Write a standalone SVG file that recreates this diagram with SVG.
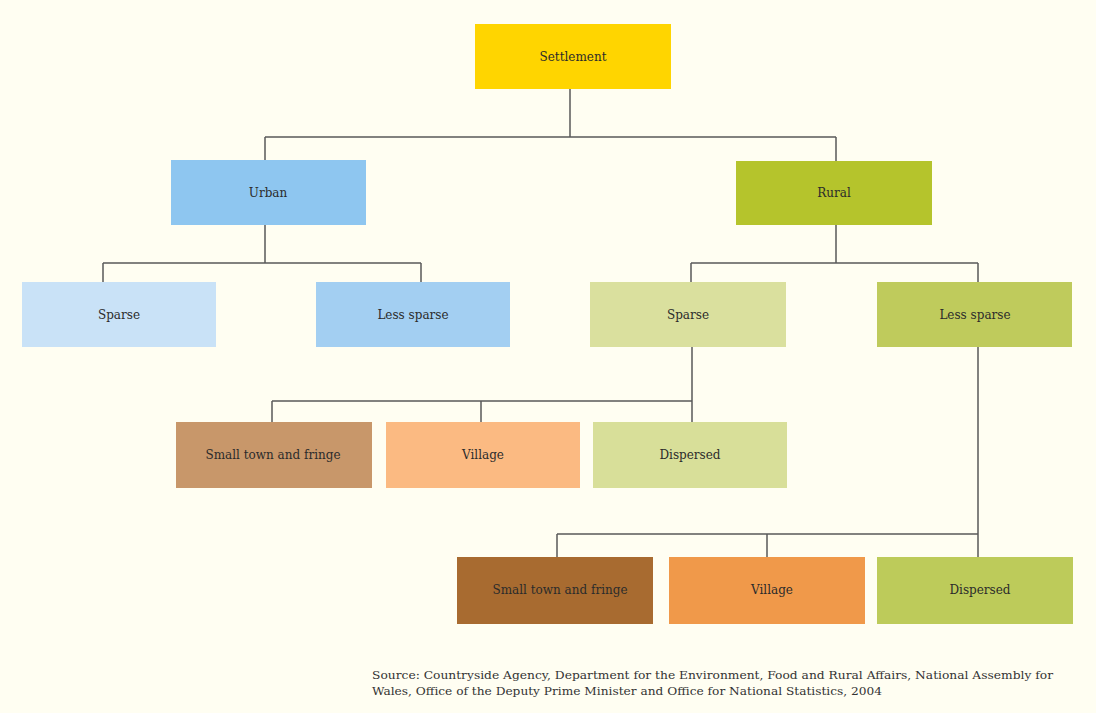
<svg xmlns="http://www.w3.org/2000/svg" width="1096" height="713" viewBox="0 0 1096 713">
<style>
.lbl{font-family:"DejaVu Serif","Liberation Serif",serif;font-size:12px;fill:#2b2b2b;text-anchor:middle;dominant-baseline:central}
.src{font-family:"DejaVu Serif","Liberation Serif",serif;font-size:11.5px;fill:#333}
.c{stroke:#5a5a5a;stroke-width:1.5;fill:none}
</style>
<rect width="1096" height="713" fill="#FFFEF2"/>
<g id="connectors">
<path class="c" d="M570 89V137M265 137H836M265 137V161M836 137V161"/>
<path class="c" d="M265 225V263M103 263H421M103 263V282M421 263V282"/>
<path class="c" d="M836 225V263M691 263H978M691 263V282M978 263V282"/>
<path class="c" d="M692 347V422M272 401H692M272 401V422M481 401V422"/>
<path class="c" d="M978 347V557M557 534H978M557 534V557M767 534V557"/>
</g>
<g id="settlement"><rect x="475" y="24" width="196" height="65" fill="#FFD500"/><text class="lbl" x="573" y="57">Settlement</text></g>
<g id="urban"><rect x="171" y="160" width="195" height="65" fill="#8EC6F0"/><text class="lbl" x="268" y="193">Urban</text></g>
<g id="rural"><rect x="736" y="161" width="196" height="64" fill="#B5C42C"/><text class="lbl" x="834" y="193">Rural</text></g>
<g id="urban-sparse"><rect x="22" y="282" width="194" height="65" fill="#C9E2F7"/><text class="lbl" x="119" y="315">Sparse</text></g>
<g id="urban-less-sparse"><rect x="316" y="282" width="194" height="65" fill="#A3CFF2"/><text class="lbl" x="413" y="315">Less sparse</text></g>
<g id="rural-sparse"><rect x="590" y="282" width="196" height="65" fill="#DAE09E"/><text class="lbl" x="688" y="315">Sparse</text></g>
<g id="rural-less-sparse"><rect x="877" y="282" width="195" height="65" fill="#BFCB5C"/><text class="lbl" x="975" y="315">Less sparse</text></g>
<g id="sparse-small-town"><rect x="176" y="422" width="196" height="66" fill="#C8976A"/><text class="lbl" x="273" y="455">Small town and fringe</text></g>
<g id="sparse-village"><rect x="386" y="422" width="194" height="66" fill="#FBBA82"/><text class="lbl" x="483" y="455">Village</text></g>
<g id="sparse-dispersed"><rect x="593" y="422" width="194" height="66" fill="#D8DF99"/><text class="lbl" x="690" y="455">Dispersed</text></g>
<g id="less-small-town"><rect x="457" y="557" width="196" height="67" fill="#A86B30"/><text class="lbl" x="560" y="590">Small town and fringe</text></g>
<g id="less-village"><rect x="669" y="557" width="196" height="67" fill="#F0994A"/><text class="lbl" x="772" y="590">Village</text></g>
<g id="less-dispersed"><rect x="877" y="557" width="196" height="67" fill="#BDCB5A"/><text class="lbl" x="980" y="590">Dispersed</text></g>
<g id="source">
<text class="src" x="372" y="679" textLength="681" lengthAdjust="spacingAndGlyphs">Source: Countryside Agency, Department for the Environment, Food and Rural Affairs, National Assembly for</text>
<text class="src" x="372" y="695" textLength="510" lengthAdjust="spacingAndGlyphs">Wales, Office of the Deputy Prime Minister and Office for National Statistics, 2004</text>
</g>
</svg>
